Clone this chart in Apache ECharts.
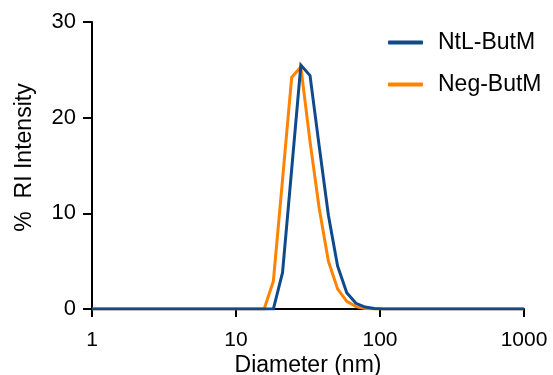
<!DOCTYPE html>
<html>
<head>
<meta charset="utf-8">
<script src="https://cdn.jsdelivr.net/npm/echarts@6/dist/echarts.min.js"></script>
<style>
  html, body { margin: 0; padding: 0; background: #fff; }
  #chart { width: 553px; height: 375px; }
</style>
</head>
<body>
<div id="chart"></div>
<script>
// size bins (nm), padded with the axis ends
var diameters = [1, 15.69, 18.17, 21.04, 24.36, 28.21, 32.67, 37.84, 43.82, 50.75, 58.77, 68.06, 78.82, 91.28, 105.7, 1000];
var ntlButM = [0, 0, 0, 3.8, 14.6, 25.5, 24.4, 17.0, 9.8, 4.5, 1.7, 0.6, 0.2, 0.05, 0, 0];
var negButM = [0, 0, 2.9, 13.5, 24.2, 25.3, 17.5, 10.5, 5.0, 2.1, 0.8, 0.25, 0.05, 0, 0, 0];
var yTicks = [0, 10, 20, 30];

function pairs(vals) {
    return diameters.map(function (d, i) { return [d, vals[i]]; });
}

var myChart = echarts.init(document.getElementById('chart'));
var font = 'Liberation Sans, Arial, Helvetica, sans-serif';

var option = {
    backgroundColor: '#fff',
    animation: false,
    textStyle: { fontFamily: font, color: '#000' },
    grid: { left: 92, right: 29, top: 22, bottom: 66, outerBoundsMode: 'none', containLabel: false },
    legend: {
        orient: 'vertical',
        left: 388,
        top: 31,
        padding: 0,
        icon: 'roundRect',
        itemWidth: 35,
        itemHeight: 4,
        itemGap: 19,
        data: ['NtL-ButM', 'Neg-ButM'],
        textStyle: { fontFamily: font, fontSize: 23, color: '#000', padding: [0, 0, 0, 10] }
    },
    xAxis: {
        type: 'log',
        logBase: 10,
        min: 1,
        max: 1000,
        name: 'Diameter (nm)',
        nameLocation: 'middle',
        nameGap: 45,
        nameMoveOverlap: false,
        nameTextStyle: { fontFamily: font, fontSize: 23, color: '#000' },
        axisLine: { lineStyle: { color: '#000', width: 2 } },
        axisTick: { show: true, length: 8, lineStyle: { color: '#000', width: 2 } },
        minorTick: { show: false },
        splitLine: { show: false },
        axisLabel: {
            margin: 21,
            fontSize: 21,
            color: '#000',
            formatter: function (v) { return String(Math.round(v)); }
        }
    },
    yAxis: {
        type: 'value',
        min: yTicks[0],
        max: yTicks[yTicks.length - 1],
        interval: 10,
        name: '%  RI Intensity',
        nameLocation: 'middle',
        nameGap: 56,
        nameMoveOverlap: false,
        nameTextStyle: { fontFamily: font, fontSize: 23, color: '#000', padding: [0, 0, 0, 16] },
        axisLine: { show: true, lineStyle: { color: '#000', width: 2 } },
        axisTick: { show: true, length: 9, lineStyle: { color: '#000', width: 2 } },
        splitLine: { show: false },
        axisLabel: { margin: 16, fontSize: 22, color: '#000' }
    },
    series: [{
        name: 'Neg-ButM',
        type: 'line',
        symbol: 'none',
        data: pairs(negButM),
        itemStyle: { color: '#ff8300' },
        lineStyle: { color: '#ff8300', width: 3, join: 'miter' },
        z: 2
    }, {
        name: 'NtL-ButM',
        type: 'line',
        symbol: 'none',
        data: pairs(ntlButM),
        itemStyle: { color: '#114a8b' },
        lineStyle: { color: '#114a8b', width: 3, join: 'miter' },
        z: 3
    }]
};
myChart.setOption(option);
</script>
</body>
</html>
